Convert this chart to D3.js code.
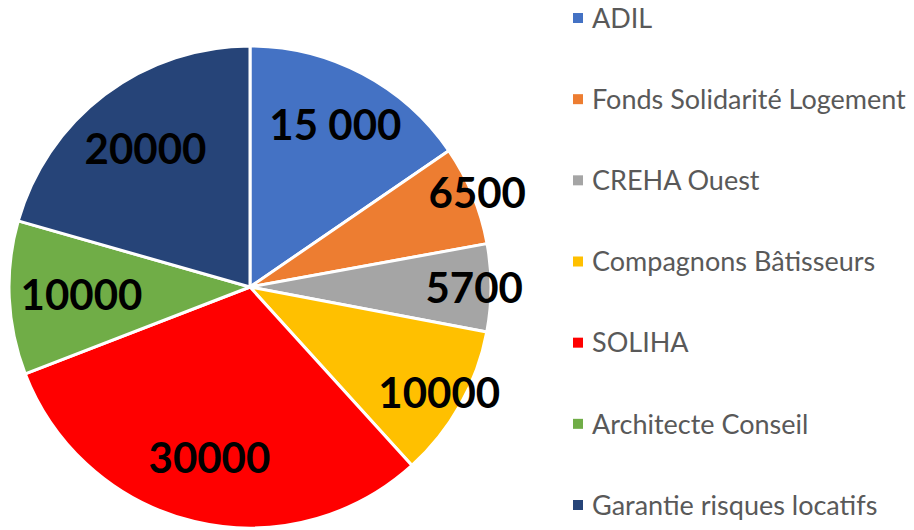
<!DOCTYPE html>
<html><head><meta charset="utf-8">
<script src="https://cdn.jsdelivr.net/npm/d3@7"></script>
<style>body{margin:0;background:#fff}svg{display:block}</style>
</head><body>
<svg id="c" width="914" height="530"></svg>
<script>
const categories = ["ADIL","Fonds Solidarité Logement","CREHA Ouest","Compagnons Bâtisseurs","SOLIHA","Architecte Conseil","Garantie risques locatifs"];
const values = [15000, 6500, 5700, 10000, 30000, 10000, 20000];
const valueLabels = ["15 000","6500","5700","10000","30000","10000","20000"];
const colors = ["#4472C4","#ED7D31","#A5A5A5","#FFC000","#FF0000","#70AD47","#264478"];

const svg = d3.select("#c");
const cx = 250, cy = 287, R = 241;
const data = categories.map((c,i)=>({name:c, value:values[i], label:valueLabels[i]}));
const pie = d3.pie().value(d=>d.value).sort(null);
const arcs = pie(data);
const arc = d3.arc().innerRadius(0).outerRadius(R);
const g = svg.append("g").attr("transform",`translate(${cx},${cy})`);
g.selectAll("path").data(arcs).join("path")
  .attr("d",arc).attr("fill",(d,i)=>colors[i])
  .attr("stroke","#fff").attr("stroke-width",3).attr("stroke-linejoin","round");

// label radial placement (fraction of radius) — layout only
const labelFrac = [0.76, 1.02, 0.93, 0.9, 0.73, 0.7, 0.72];
g.selectAll("text.v").data(arcs).join("text").attr("class","v")
  .attr("transform",(d,i)=>{
    const a = (d.startAngle+d.endAngle)/2, r = R*labelFrac[i];
    return `translate(${Math.sin(a)*r},${-Math.cos(a)*r})`;
  })
  .attr("text-anchor","middle").attr("dy","0.36em")
  .style("font-family","Lato, 'Open Sans', sans-serif").style("font-weight","bold")
  .style("font-size","42px").attr("fill","#000")
  .text(d=>d.data.label);

const leg = svg.append("g");
const y = d3.scalePoint().domain(categories).range([18,505]);
categories.forEach((c,i)=>{
  leg.append("rect").attr("x",573).attr("y",y(c)-5).attr("width",10).attr("height",10).attr("fill",colors[i]);
  leg.append("text").attr("x",592).attr("y",y(c)).attr("dy","0.36em")
    .style("font-family","Lato, 'Open Sans', sans-serif").style("font-size","27px").attr("fill","#595959").text(c);
});
</script>
</body></html>
